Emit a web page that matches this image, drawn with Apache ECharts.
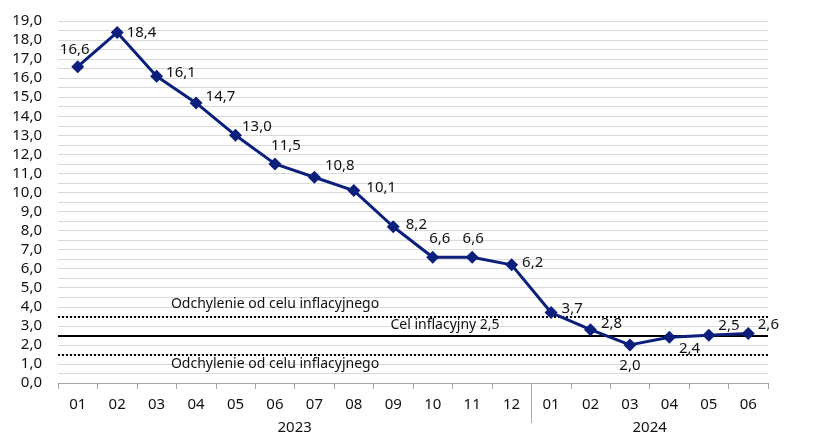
<!DOCTYPE html>
<html>
<head>
<meta charset="utf-8">
<script src="https://cdn.jsdelivr.net/npm/echarts@6/dist/echarts.min.js"></script>
<style>html,body{margin:0;padding:0;background:#fff}#c{width:826px;height:441px}</style>
</head>
<body>
<div id="c"></div>
<script>
var months = ['01','02','03','04','05','06','07','08','09','10','11','12','01','02','03','04','05','06'];
var years = ['2023','2024'];
var yearLengths = [12, 6];
var cpi = [16.6,18.4,16.1,14.7,13.0,11.5,10.8,10.1,8.2,6.6,6.6,6.2,3.7,2.8,2.0,2.4,2.5,2.6];
var target = 2.5;
var bandUpper = 3.5;
var bandLower = 1.5;
var yMin = 0, yMax = 19;

// label placement per point (style only)
var labelPlace = [
  {position:'top', offset:[-3,2]},
  {position:'right', offset:[-2,0]},
  {position:'right', offset:[-2,-4]},
  {position:'right', offset:[-2,-6]},
  {position:'right', offset:[-5,-9]},
  {position:'top', offset:[11,1]},
  {position:'right', offset:[-1,-11]},
  {position:'right', offset:[1,-3]},
  {position:'right', offset:[1,-2]},
  {position:'top', offset:[7,0]},
  {position:'top', offset:[1,0]},
  {position:'right', offset:[-1,-2]},
  {position:'right', offset:[-1,-4]},
  {position:'right', offset:[-1,-6]},
  {position:'bottom', offset:[0,2]},
  {position:'right', offset:[-2,11]},
  {position:'right', offset:[-2,-10]},
  {position:'right', offset:[-2,-9]}
];

function fmt(v){ return v.toFixed(1).replace('.', ','); }

var yearCenters = [], yearSeps = [], acc = 0;
yearLengths.forEach(function(n, i){
  yearCenters.push(acc + n/2);
  acc += n;
  if (i < yearLengths.length - 1) yearSeps.push(acc);
});

var FONT = 'Noto Sans';
var chart = echarts.init(document.getElementById('c'));
chart.setOption({
  animation: false,
  textStyle: {fontFamily: FONT},
  grid: {left: 58, right: 58, top: 21, bottom: 58, containLabel: false},
  xAxis: [{
    type: 'category',
    data: months,
    boundaryGap: true,
    axisLine: {lineStyle: {color: '#a6a6a6', width: 1}},
    axisTick: {show: true, interval: 0, length: 6, lineStyle: {color: '#a6a6a6'}},
    axisLabel: {interval: 0, color: '#111', fontSize: 15, margin: 14, fontFamily: FONT},
    splitLine: {show: false}
  }, {
    type: 'value',
    position: 'bottom',
    offset: 0,
    min: 0, max: months.length,
    axisLine: {show: false},
    axisTick: {show: true, customValues: yearSeps, length: 40, lineStyle: {color: '#a6a6a6'}},
    axisLabel: {
      customValues: yearCenters,
      formatter: function(v){ return years[yearCenters.indexOf(v)] || ''; },
      color: '#111', fontSize: 15, margin: 37, fontFamily: FONT
    },
    splitLine: {show: false}
  }],
  yAxis: {
    type: 'value',
    min: yMin, max: yMax, interval: 0.5,
    axisLine: {show: false},
    axisTick: {show: false},
    axisLabel: {
      formatter: function(v){ return (Math.abs(v % 1) < 1e-9) ? fmt(v) : ''; },
      color: '#111', fontSize: 15, margin: 16, fontFamily: FONT
    },
    splitLine: {lineStyle: {color: '#d9d9d9', width: 1}}
  },
  series: [{
    type: 'line',
    data: [],
    z: 1,
    silent: true,
    markLine: {
      silent: true,
      symbol: 'none',
      animation: false,
      data: [
        {yAxis: bandUpper, lineStyle: {type: [2, 2], color: '#000', width: 2},
         label: {show: true, position: 'insideMiddleTop', formatter: 'Odchylenie od celu inflacyjnego',
                 color: '#111', fontSize: 14, fontFamily: FONT, distance: 5, padding: [0, 276, 0, 0]}},
        {yAxis: target, lineStyle: {type: 'solid', color: '#000', width: 2},
         label: {show: true, position: 'insideMiddleTop', formatter: 'Cel inflacyjny ' + fmt(target),
                 color: '#111', fontSize: 14, fontFamily: FONT, distance: 3, padding: [0, 0, 0, 64]}},
        {yAxis: bandLower, lineStyle: {type: [2, 2], color: '#000', width: 2},
         label: {show: true, position: 'insideMiddleBottom', formatter: 'Odchylenie od celu inflacyjnego',
                 color: '#111', fontSize: 14, fontFamily: FONT, distance: 3, padding: [0, 276, 0, 0]}}
      ]
    }
  }, {
    type: 'line',
    z: 5,
    data: cpi.map(function(v, i){
      return {value: v, label: {position: labelPlace[i].position, offset: labelPlace[i].offset}};
    }),
    symbol: 'diamond',
    symbolSize: 13,
    showAllSymbol: true,
    lineStyle: {color: '#0b1f7c', width: 3},
    itemStyle: {color: '#0b1f7c'},
    label: {
      show: true,
      formatter: function(p){ return fmt(p.value); },
      color: '#111', fontSize: 15, fontFamily: FONT, distance: 5
    }
  }]
});
</script>
</body>
</html>
